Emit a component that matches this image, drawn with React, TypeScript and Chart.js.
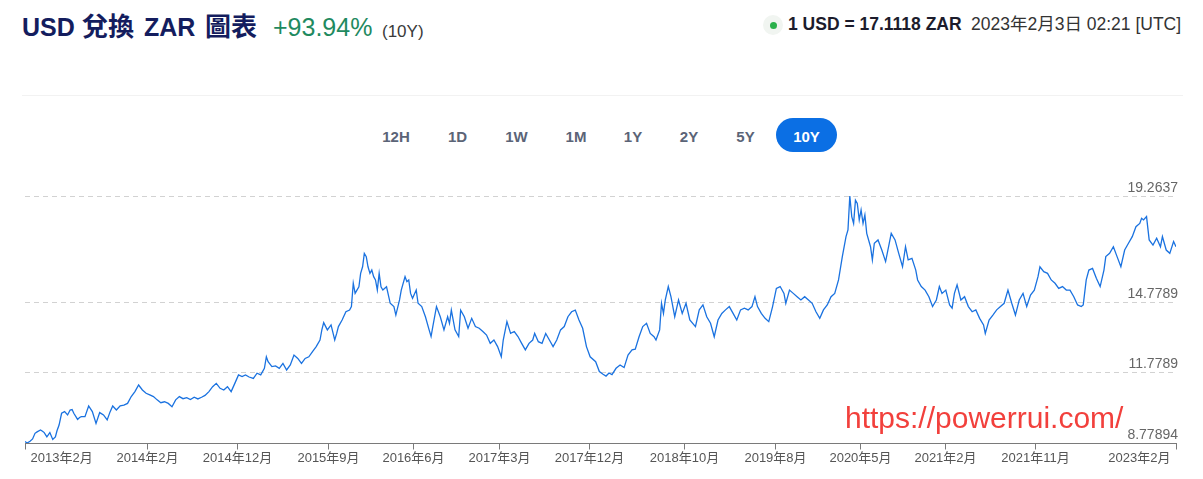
import React, { useEffect, useRef } from 'react';
import { Chart, registerables } from 'chart.js';

Chart.register(...registerables);

// ---- Data (time in fractional years, USD/ZAR rate) ----
const timesA = [
  2013.090, 2013.108, 2013.134, 2013.156, 2013.177, 2013.195, 2013.225, 2013.242, 2013.257, 2013.280,
  2013.306, 2013.331, 2013.354, 2013.368, 2013.386, 2013.408, 2013.434, 2013.460, 2013.482, 2013.499,
  2013.514, 2013.547, 2013.564, 2013.579, 2013.611, 2013.643, 2013.675, 2013.707, 2013.739, 2013.772,
  2013.804, 2013.829, 2013.852, 2013.884, 2013.917, 2013.949, 2013.981,
  2014.013, 2014.045, 2014.077, 2014.110, 2014.142, 2014.174, 2014.206, 2014.238, 2014.270, 2014.302,
  2014.335, 2014.367, 2014.399, 2014.431, 2014.463, 2014.495, 2014.527, 2014.560, 2014.592, 2014.624,
  2014.654, 2014.688, 2014.720, 2014.752, 2014.785, 2014.817, 2014.849, 2014.881, 2014.913, 2014.945, 2014.976,
  2015.006, 2015.037, 2015.074, 2015.106, 2015.138, 2015.170, 2015.187, 2015.202, 2015.235, 2015.267,
  2015.299, 2015.331, 2015.363, 2015.395, 2015.427, 2015.460, 2015.492, 2015.524, 2015.556, 2015.588,
  2015.620, 2015.653, 2015.669, 2015.685, 2015.717, 2015.749, 2015.781, 2015.798, 2015.813, 2015.845,
  2015.878, 2015.910, 2015.926, 2015.942, 2015.958, 2015.974, 2015.991,
  2016.006, 2016.023, 2016.038, 2016.055, 2016.070, 2016.087, 2016.103, 2016.119, 2016.135, 2016.151,
  2016.167, 2016.183, 2016.199, 2016.231, 2016.263, 2016.295, 2016.312, 2016.344, 2016.359, 2016.392,
  2016.408, 2016.424, 2016.440, 2016.457, 2016.489, 2016.505, 2016.537, 2016.569, 2016.601, 2016.618,
  2016.633, 2016.665, 2016.698, 2016.730, 2016.762, 2016.778, 2016.794, 2016.826, 2016.858, 2016.875,
  2016.907, 2016.939, 2016.971,
];
const ratesA = [
  8.84, 8.77894, 8.85, 8.95, 9.19, 9.25, 9.33, 9.28, 9.22, 9.04,
  9.22, 8.93, 9.04, 9.30, 9.54, 10.04, 10.11, 9.97, 10.18, 10.20,
  10.04, 9.78, 9.86, 9.90, 9.90, 10.35, 10.11, 9.61, 10.07, 9.97,
  9.76, 10.10, 10.35, 10.18, 10.36, 10.39, 10.46,
  10.75, 10.96, 11.24, 11.03, 10.89, 10.82, 10.75, 10.61, 10.49, 10.53,
  10.46, 10.32, 10.61, 10.75, 10.66, 10.70, 10.62, 10.72, 10.65, 10.72,
  10.80, 10.96, 11.17, 11.31, 11.10, 11.03, 11.17, 10.96, 11.31, 11.67, 11.60,
  11.67, 11.58, 11.52, 11.74, 11.67, 11.95, 12.44, 12.23, 12.02, 12.05,
  11.95, 12.16, 11.88, 12.09, 12.51, 12.37, 12.16, 12.37, 12.44, 12.66,
  12.87, 13.15, 13.58, 13.89, 13.58, 13.79, 13.15, 13.43, 13.72, 14.00,
  14.35, 14.42, 14.57, 15.56, 15.13, 15.27, 15.41,
  15.98, 16.26, 16.83, 16.69, 16.26, 15.98, 16.12, 15.84, 15.70, 15.27,
  15.98, 15.41, 15.27, 15.41, 14.71, 14.57, 14.21, 14.85, 15.27, 15.84,
  15.63, 15.70, 15.13, 14.92, 15.27, 14.71, 14.57, 14.14, 13.58, 13.30,
  13.72, 14.57, 14.14, 13.58, 14.14, 13.86, 14.42, 13.58, 13.30, 14.42,
  14.14, 13.65, 14.07,
];

const timesB = [
  2017.003, 2017.036, 2017.068, 2017.100, 2017.132, 2017.164, 2017.196, 2017.228, 2017.245, 2017.277,
  2017.309, 2017.341, 2017.373, 2017.405, 2017.437, 2017.469, 2017.501, 2017.518, 2017.550, 2017.582,
  2017.614, 2017.646, 2017.678, 2017.710, 2017.743, 2017.775, 2017.807, 2017.839, 2017.871, 2017.903,
  2017.935, 2017.968,
  2018.000, 2018.048, 2018.080, 2018.112, 2018.138, 2018.164, 2018.190, 2018.225, 2018.260, 2018.295,
  2018.329, 2018.364, 2018.392, 2018.425, 2018.457, 2018.490, 2018.522, 2018.555, 2018.572, 2018.604,
  2018.620, 2018.637, 2018.653, 2018.679, 2018.702, 2018.735, 2018.768, 2018.800, 2018.833, 2018.866,
  2018.915, 2018.948, 2018.980,
  2019.013, 2019.046, 2019.078, 2019.111, 2019.144, 2019.176, 2019.209, 2019.242, 2019.274, 2019.307,
  2019.340, 2019.373, 2019.406, 2019.432, 2019.454, 2019.487, 2019.520, 2019.552, 2019.585, 2019.618,
  2019.651, 2019.684, 2019.700, 2019.732, 2019.765, 2019.798, 2019.831, 2019.864, 2019.897, 2019.929,
  2019.962, 2019.995,
];
const ratesB = [
  13.72, 13.65, 13.51, 13.36, 13.01, 13.15, 12.87, 12.44, 13.15, 13.93,
  13.43, 13.51, 13.30, 13.01, 12.73, 13.01, 13.15, 13.43, 13.08, 13.01,
  13.43, 13.15, 12.87, 13.15, 13.58, 13.72, 14.14, 14.35, 14.42, 14.00,
  13.65, 12.87,
  12.44, 12.23, 11.81, 11.70, 11.62, 11.75, 11.68, 11.95, 12.09, 11.98,
  12.51, 12.73, 12.76, 13.29, 13.72, 13.86, 13.43, 13.29, 13.15, 13.58,
  14.71, 14.28, 14.85, 15.42, 14.99, 14.14, 14.85, 14.28, 14.71, 14.00,
  13.72, 14.43, 14.64,
  14.14, 13.86, 13.29, 14.00, 14.28, 14.43, 14.57, 14.28, 14.00, 14.43,
  14.50, 14.43, 14.57, 14.99, 14.57, 14.28, 14.07, 13.93, 14.57, 15.34,
  15.42, 15.13, 14.71, 15.27, 15.13, 14.99, 14.85, 14.99, 14.85, 14.71,
  14.35, 14.07,
];

const timesC = [
  2020.027, 2020.060, 2020.093, 2020.125, 2020.158, 2020.191, 2020.223, 2020.240, 2020.256, 2020.273,
  2020.289, 2020.305, 2020.321, 2020.338, 2020.354, 2020.371, 2020.387, 2020.403, 2020.436, 2020.452,
  2020.469, 2020.501, 2020.534, 2020.567, 2020.599, 2020.616, 2020.649, 2020.681, 2020.714, 2020.740,
  2020.763, 2020.796, 2020.829, 2020.845, 2020.877, 2020.910, 2020.943, 2020.975,
  2021.008, 2021.034, 2021.057, 2021.090, 2021.123, 2021.145, 2021.165, 2021.188, 2021.221, 2021.253,
  2021.286, 2021.319, 2021.351, 2021.384, 2021.418, 2021.433, 2021.466, 2021.499, 2021.532, 2021.565,
  2021.597, 2021.630, 2021.663, 2021.695, 2021.728, 2021.761, 2021.793, 2021.826, 2021.859, 2021.891,
  2021.908, 2021.941, 2021.974,
  2022.006, 2022.039, 2022.071, 2022.104, 2022.137, 2022.169, 2022.202, 2022.235, 2022.267, 2022.284,
  2022.310, 2022.333, 2022.365, 2022.398, 2022.431, 2022.464, 2022.480, 2022.513, 2022.546, 2022.578,
  2022.611, 2022.644, 2022.677, 2022.710, 2022.742, 2022.775, 2022.791, 2022.808, 2022.834, 2022.857,
  2022.890, 2022.922, 2022.955, 2022.972,
  2023.005, 2023.036, 2023.069, 2023.090,
];
const ratesC = [
  14.43, 14.64, 14.99, 15.13, 15.70, 16.69, 17.54, 17.82, 19.2637, 18.39,
  18.10, 19.09, 18.95, 18.25, 18.67, 18.10, 18.46, 17.68, 17.11, 16.55,
  17.26, 17.40, 16.97, 16.48, 17.26, 17.68, 17.40, 16.83, 16.26, 17.11,
  16.55, 16.62, 16.12, 15.70, 15.42, 15.27, 14.99, 14.57,
  14.85, 15.42, 15.13, 15.27, 14.64, 14.50, 15.13, 15.49, 14.85, 14.99,
  14.57, 14.35, 14.43, 14.07, 13.79, 13.43, 14.00, 14.21, 14.43, 14.57,
  14.71, 15.27, 14.71, 14.21, 14.85, 15.13, 14.57, 15.06, 15.27, 15.84,
  16.26, 16.05, 15.98,
  15.70, 15.56, 15.34, 15.42, 15.27, 15.27, 14.99, 14.64, 14.57, 14.64,
  15.70, 16.12, 16.19, 15.77, 15.42, 16.12, 16.69, 16.83, 17.11, 16.69,
  16.26, 16.97, 17.26, 17.54, 17.96, 18.10, 18.32, 18.25, 18.39, 17.40,
  17.18, 17.47, 17.11, 17.54,
  16.97, 16.83, 17.33, 17.1118,
];

const xTickTimes = [
  2013.090, 2014.150, 2014.932, 2015.723, 2016.461, 2017.209, 2017.991,
  2018.816, 2019.607, 2020.345, 2021.083, 2021.865, 2023.090,
];
const xTickLabels = [
  '2013年2月', '2014年2月', '2014年12月', '2015年9月', '2016年6月', '2017年3月', '2017年12月',
  '2018年10月', '2019年8月', '2020年5月', '2021年2月', '2021年11月', '2023年2月',
];
const yTickValues = [8.77894, 11.7789, 14.7789, 19.2637];
const yTickLabels = ['8.77894', '11.7789', '14.7789', '19.2637'];
const rangeButtons = ['12H', '1D', '1W', '1M', '1Y', '2Y', '5Y', '10Y'];
const rangeCenters = [396, 457.5, 516.5, 576, 633, 689, 745.5, 806.5];

const FONT = '"Liberation Sans", Arial, "Noto Sans CJK TC", sans-serif';

const axesPlugin = {
  id: 'customAxes',
  beforeDatasetsDraw(chart: any) {
    const { ctx, chartArea: ca, scales } = chart;
    const y = scales.y;
    ctx.save();
    ctx.strokeStyle = '#d2d2d2';
    ctx.lineWidth = 1;
    ctx.setLineDash([5, 4]);
    yTickValues.forEach((v, i) => {
      if (i === 0) return;
      const py = Math.round(y.getPixelForValue(v)) + 0.5;
      ctx.beginPath();
      ctx.moveTo(ca.left, py);
      ctx.lineTo(ca.right, py);
      ctx.stroke();
    });
    ctx.restore();
  },
  afterDatasetsDraw(chart: any) {
    const { ctx, chartArea: ca, scales } = chart;
    const x = scales.x;
    const y = scales.y;
    ctx.save();
    ctx.setLineDash([]);
    ctx.strokeStyle = '#7a7a7a';
    ctx.lineWidth = 1;
    const by = Math.round(ca.bottom) + 0.5;
    ctx.beginPath();
    ctx.moveTo(ca.left, by);
    ctx.lineTo(ca.right + 1, by);
    ctx.stroke();
    ctx.font = `13px ${FONT}`;
    ctx.fillStyle = '#555';
    ctx.textBaseline = 'alphabetic';
    xTickTimes.forEach((t, i) => {
      const px = Math.round(x.getPixelForValue(t)) + 0.5;
      ctx.beginPath();
      ctx.moveTo(px, by);
      ctx.lineTo(px, by + 6);
      ctx.stroke();
      let lx = px;
      let align: CanvasTextAlign = 'center';
      if (i === 0) { align = 'left'; lx = px + 5; }
      else if (i === xTickTimes.length - 1) { align = 'right'; lx = px - 6; }
      ctx.textAlign = align;
      ctx.fillText(xTickLabels[i], lx, by + 18);
    });
    ctx.font = `14px ${FONT}`;
    ctx.fillStyle = '#666';
    ctx.textAlign = 'right';
    yTickValues.forEach((v, i) => {
      const py = y.getPixelForValue(v);
      ctx.fillText(yTickLabels[i], ca.right + 2, py - 4);
    });
    ctx.restore();
  },
};

function Txt(props: { x: number; base: number; size: number; weight?: number; color: string; right?: boolean; children: any }) {
  const { x, base, size, weight = 400, color, right, children } = props;
  const style: any = {
    position: 'absolute',
    top: base - 0.85 * size,
    fontSize: size,
    lineHeight: `${size}px`,
    fontWeight: weight,
    color,
    fontFamily: FONT,
    whiteSpace: 'nowrap',
  };
  if (right) style.right = 1203 - x; else style.left = x;
  return <div style={style}>{children}</div>;
}

export default function App() {
  const canvasRef = useRef<HTMLCanvasElement | null>(null);

  useEffect(() => {
    if (!canvasRef.current) return;
    const times = [...timesA, ...timesB, ...timesC];
    const rates = [...ratesA, ...ratesB, ...ratesC];
    const points = times.map((t, i) => ({ x: t, y: rates[i] }));
    const chart = new Chart(canvasRef.current, {
      type: 'line',
      data: {
        datasets: [
          {
            data: points,
            borderColor: '#1a72e0',
            borderWidth: 1.3,
            pointRadius: 0,
            tension: 0,
            fill: false,
          },
        ],
      },
      options: {
        animation: false,
        responsive: false,
        maintainAspectRatio: false,
        devicePixelRatio: 1,
        layout: { padding: { left: 25, right: 27, top: 16, bottom: 36 } },
        plugins: { legend: { display: false }, tooltip: { enabled: false } },
        scales: {
          x: { type: 'linear', min: xTickTimes[0], max: xTickTimes[xTickTimes.length - 1], display: false },
          y: { type: 'linear', min: yTickValues[0], max: yTickValues[yTickValues.length - 1], display: false },
        },
      },
      plugins: [axesPlugin],
    });
    return () => chart.destroy();
  }, []);

  return (
    <div style={{ position: 'fixed', left: 0, top: 0, width: 1203, height: 479, background: '#fff', overflow: 'hidden', fontFamily: FONT }}>
      <Txt x={22} base={36} size={25} weight={700} color="#141d5e">USD</Txt>
      <Txt x={82} base={36} size={26} weight={700} color="#141d5e">兌換</Txt>
      <Txt x={144} base={36} size={25} weight={700} color="#141d5e">ZAR</Txt>
      <Txt x={205} base={36} size={26} weight={700} color="#141d5e">圖表</Txt>
      <Txt x={273} base={36.5} size={25} color="#1f8a5f">+93.94%</Txt>
      <Txt x={382} base={37} size={17} color="#3a3a3a">(10Y)</Txt>

      <div style={{ position: 'absolute', left: 763, top: 15, width: 20, height: 20, borderRadius: 10, background: '#f1f5f1' }} />
      <div style={{ position: 'absolute', left: 769.5, top: 21.5, width: 7, height: 7, borderRadius: 4, background: '#2bb14b' }} />
      <Txt x={788} base={31} size={17.5} weight={700} color="#1c1c2c">1 USD = 17.1118 ZAR</Txt>
      <Txt x={971} base={31} size={17.5} color="#333">2023年2月3日 02:21 [UTC]</Txt>

      <div style={{ position: 'absolute', left: 22, top: 95, width: 1161, height: 1, background: '#f2f2f2' }} />

      <div style={{ position: 'absolute', left: 776, top: 118, width: 61, height: 34, borderRadius: 17, background: '#0b6fe4' }} />
      {rangeButtons.map((b, i) => (
        <div
          key={b}
          style={{
            position: 'absolute',
            left: rangeCenters[i] - 30,
            width: 60,
            textAlign: 'center',
            top: 141.5 - 0.85 * 15,
            fontSize: 15,
            lineHeight: '15px',
            fontWeight: 700,
            color: i === rangeButtons.length - 1 ? '#fff' : '#5b6477',
            fontFamily: FONT,
          }}
        >
          {b}
        </div>
      ))}

      <canvas ref={canvasRef} width={1203} height={299} style={{ position: 'absolute', left: 0, top: 180, width: 1203, height: 299 }} />

      <Txt x={845} base={428} size={30} color="#f2403c">https://powerrui.com/</Txt>
    </div>
  );
}
